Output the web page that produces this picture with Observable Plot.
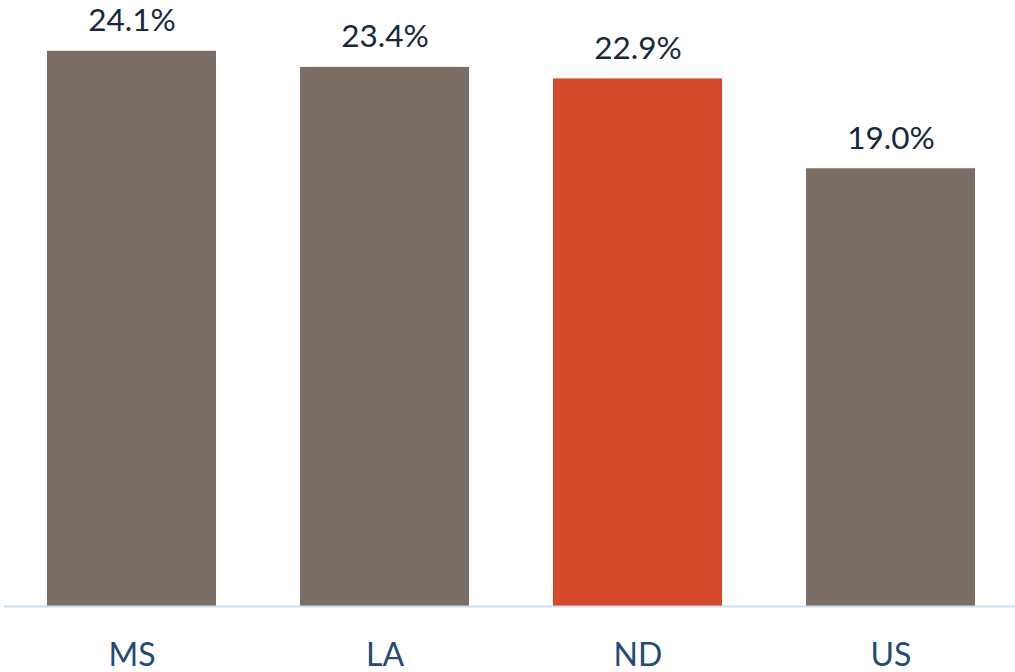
<!DOCTYPE html>
<html>
<head>
<meta charset="utf-8">
<script src="https://cdn.jsdelivr.net/npm/d3@7"></script>
<script src="https://cdn.jsdelivr.net/npm/@observablehq/plot@0.6"></script>
<style>
  html, body { margin: 0; padding: 0; background: #ffffff; }
</style>
</head>
<body>
<div id="chart"></div>
<script>
const categories = ["MS", "LA", "ND", "US"];
const values = [24.1, 23.4, 22.9, 19.0];
const highlight = "ND";

const data = categories.map((c, i) => ({ state: c, value: values[i] }));

const chart = Plot.plot({
  width: 1015,
  height: 672,
  marginLeft: 4,
  marginRight: -2,
  marginTop: 7,
  marginBottom: 66,
  style: { fontFamily: "Lato, 'Open Sans', sans-serif", background: "#ffffff", overflow: "visible" },
  x: { domain: categories, paddingInner: 0.333, paddingOuter: 0.1665, label: null },
  y: { domain: [0, 26], axis: null },
  marks: [
    Plot.barY(data, { x: "state", y: "value", fill: d => d.state === highlight ? "#d44a28" : "#7a6e65" }),
    Plot.ruleY([0], { stroke: "#c7e0f2", strokeWidth: 2 }),
    Plot.text(data, { x: "state", y: "value", text: d => d.value.toFixed(1) + "%", lineAnchor: "bottom", dy: -20, fontSize: 31.5, fill: "#15283e" }),
    Plot.axisX({ tickSize: 0, tickPadding: 37, fontSize: 32, color: "#1f4b78", label: null })
  ]
});
document.getElementById("chart").appendChild(chart);
</script>
</body>
</html>
